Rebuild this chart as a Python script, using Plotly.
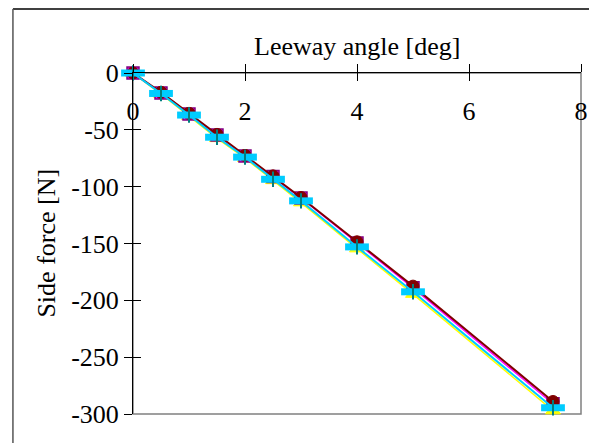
import plotly.graph_objects as go

leeway = [0, 0.5, 1, 1.5, 2, 2.5, 3, 4, 5, 7.5]
maroon_vals = [0, -17, -35.5, -54, -72.5, -90.5, -109.5, -148.5, -187.5, -289]
magenta_vals = [0, -17.5, -36, -54.5, -73, -91, -110, -149.5, -189, -291]
yellow_vals = [0, -18.5, -38, -57.5, -75, -94.5, -114, -154.5, -194.5, -297]
cyan_vals = [0, -18, -37, -56.5, -74, -93.5, -112.5, -153, -192.5, -294.5]
teal_vals = [0, -18, -37, -56.5, -74, -93.5, -112.5, -153, -192.5, -294.5]

x_ticks = [0, 2, 4, 6, 8]
x_ticktext = ["0", "2", "4", "6", "8"]
y_ticks = [0, -50, -100, -150, -200, -250, -300]
y_ticktext = ["0", "-50", "-100", "-150", "-200", "-250", "-300"]

FONT = "Liberation Serif"
FS = 26
fig = go.Figure()

fig.add_trace(go.Scatter(x=leeway, y=yellow_vals, mode="lines+markers", cliponaxis=False,
                         line=dict(color="#FFFF00", width=1.5),
                         marker=dict(symbol="triangle-up", size=13, color="#FFFF00",
                                     line=dict(color="#FFFF00", width=1))))
fig.add_trace(go.Scatter(x=leeway, y=magenta_vals, mode="lines+markers", cliponaxis=False,
                         line=dict(color="#FF00FF", width=1.5),
                         marker=dict(symbol="square", size=12, color="#FF00FF",
                                     line=dict(color="#800080", width=1.5))))
fig.add_trace(go.Scatter(x=leeway, y=maroon_vals, mode="lines+markers", cliponaxis=False,
                         line=dict(color="#800000", width=2),
                         marker=dict(symbol="circle", size=12, color="#800000",
                                     line=dict(color="#800000", width=1))))
fig.add_trace(go.Scatter(x=leeway, y=cyan_vals, mode="lines+markers", cliponaxis=False,
                         line=dict(color="#00CCFF", width=2),
                         marker=dict(symbol="line-ew", size=17,
                                     line=dict(color="#00CCFF", width=7))))
fig.add_trace(go.Scatter(x=leeway, y=teal_vals, mode="markers", cliponaxis=False,
                         marker=dict(symbol="line-ns", size=11,
                                     line=dict(color="#008080", width=2))))

fig.update_layout(
    width=589, height=435,
    margin=dict(l=125, r=16, t=65, b=29),
    paper_bgcolor="white", plot_bgcolor="white",
    showlegend=False,
    font=dict(family=FONT, size=FS, color="black"),
    xaxis=dict(range=[0, 8], side="top", showline=True, linecolor="black", linewidth=1,
               ticks="outside", ticklen=8, tickcolor="black",
               tickvals=x_ticks, showticklabels=False,
               showgrid=False, zeroline=False, automargin=False),
    xaxis2=dict(range=[0, 8], overlaying="x", side="top", showline=False,
                ticks="inside", ticklen=8, tickcolor="black", tickvals=x_ticks,
                showticklabels=False, showgrid=False, zeroline=False, automargin=False),
    xaxis3=dict(range=[0, 8], overlaying="x", side="bottom", anchor="free", position=0.94,
                showline=False, ticks="", tickvals=x_ticks, ticktext=x_ticktext,
                tickfont=dict(family=FONT, size=FS), showgrid=False, zeroline=False,
                automargin=False),
    yaxis=dict(range=[-300, 0], showline=True, linecolor="black", linewidth=1,
               ticks="outside", ticklen=8, tickcolor="black",
               tickvals=y_ticks, ticktext=y_ticktext,
               showgrid=False, zeroline=False, automargin=False,
               tickfont=dict(family=FONT, size=FS)),
    yaxis2=dict(range=[-300, 0], overlaying="y", side="left", showline=False,
                ticks="inside", ticklen=8, tickcolor="black", tickvals=y_ticks,
                showticklabels=False, showgrid=False, zeroline=False, automargin=False),
    shapes=[
        dict(type="rect", xref="paper", yref="paper", x0=0, x1=1, y0=0, y1=1,
             line=dict(color="#808080", width=1.5), layer="below"),
        dict(type="line", xref="paper", yref="paper", x0=-0.268, x1=1.2, y0=1.188, y1=1.188,
             line=dict(color="black", width=1.5)),
        dict(type="line", xref="paper", yref="paper", x0=-0.268, x1=-0.268, y0=1.188, y1=-0.3,
             line=dict(color="#555555", width=1.5)),
    ],
    annotations=[
        dict(text="Leeway angle [deg]", xref="paper", yref="paper", x=0.5, y=1.077,
             showarrow=False, font=dict(family=FONT, size=FS), xanchor="center", yanchor="middle"),
        dict(text="Side force [N]", xref="paper", yref="paper", x=-0.194, y=0.5,
             showarrow=False, textangle=-90, font=dict(family=FONT, size=FS),
             xanchor="center", yanchor="middle"),
    ],
)
# invisible traces to activate overlay axes
fig.add_trace(go.Scatter(x=[None], y=[None], xaxis="x2", yaxis="y2", showlegend=False))
fig.add_trace(go.Scatter(x=[None], y=[None], xaxis="x3", yaxis="y", showlegend=False))

fig.write_html("out.html")
